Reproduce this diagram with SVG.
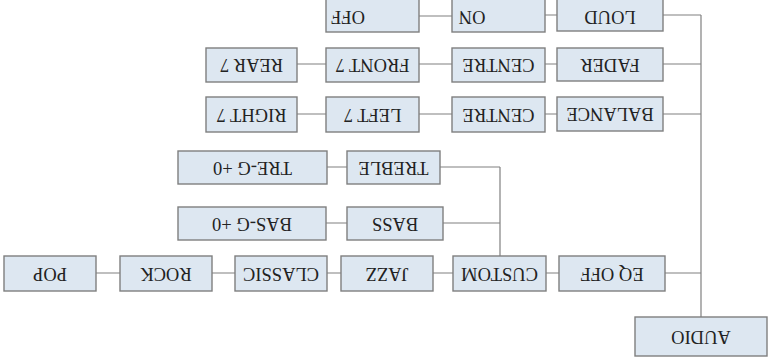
<svg xmlns="http://www.w3.org/2000/svg" width="768" height="364" viewBox="0 0 768 364">
<style>
.b{fill:#dde7f1;stroke:#7f7f7f;stroke-width:1.4}
.t{font-family:"Liberation Serif","Times New Roman",serif;font-size:18.5px;fill:#222222;text-anchor:middle}
.c{stroke:#808080;stroke-width:1.2;fill:none}
</style>
<rect width="768" height="364" fill="#ffffff"/>
<g id="connectors">
<path class="c" d="M701 15V317M663 15H701M663 64H701M663 114H701M665 273H701"/>
<path class="c" d="M545 15H557M419 16H452"/>
<path class="c" d="M545 64H557M419 64H452M297 64H326"/>
<path class="c" d="M545 114H557M419 114H452M297 114H326"/>
<path class="c" d="M546 273H559M433 273H453M327 273H341M212 273H235M96 273H120"/>
<path class="c" d="M500 256V167M440 167H500M443 223H500M327 167H347M326 223H347"/>
</g>
<g id="loud"><rect class="b" x="557" y="-5" width="106" height="36"/><text class="t" transform="rotate(180 610 11)" x="610" y="11">LOUD</text></g>
<g id="on"><rect class="b" x="452" y="-5" width="93" height="37"/><text class="t" transform="rotate(180 472 11)" x="472" y="11">ON</text></g>
<g id="off"><rect class="b" x="326" y="-5" width="93" height="37"/><text class="t" transform="rotate(180 348 11)" x="348" y="11">OFF</text></g>
<g id="fader"><rect class="b" x="557" y="48" width="106" height="33"/><text class="t" transform="rotate(180 610 58.5)" x="610" y="58.5">FADER</text></g>
<g id="centre1"><rect class="b" x="452" y="48" width="93" height="34"/><text class="t" transform="rotate(180 498.5 59)" x="498.5" y="59">CENTRE</text></g>
<g id="front7"><rect class="b" x="326" y="48" width="93" height="34"/><text class="t" transform="rotate(180 372.5 59)" x="372.5" y="59">FRONT 7</text></g>
<g id="rear7"><rect class="b" x="206" y="48" width="91" height="34"/><text class="t" transform="rotate(180 251.5 59)" x="251.5" y="59">REAR 7</text></g>
<g id="balance"><rect class="b" x="557" y="97" width="106" height="34"/><text class="t" transform="rotate(180 610 108)" x="610" y="108">BALANCE</text></g>
<g id="centre2"><rect class="b" x="452" y="97" width="93" height="35"/><text class="t" transform="rotate(180 498.5 108.5)" x="498.5" y="108.5">CENTRE</text></g>
<g id="left7"><rect class="b" x="326" y="97" width="93" height="35"/><text class="t" transform="rotate(180 372.5 108.5)" x="372.5" y="108.5">LEFT 7</text></g>
<g id="right7"><rect class="b" x="206" y="97" width="91" height="35"/><text class="t" transform="rotate(180 251.5 108.5)" x="251.5" y="108.5">RIGHT 7</text></g>
<g id="treble"><rect class="b" x="347" y="151" width="93" height="33"/><text class="t" transform="rotate(180 393.5 161.5)" x="393.5" y="161.5">TREBLE</text></g>
<g id="treg"><rect class="b" x="178" y="151" width="149" height="33"/><text class="t" transform="rotate(180 252.5 161.5)" x="252.5" y="161.5">TRE-G +0</text></g>
<g id="bass"><rect class="b" x="347" y="207" width="96" height="33"/><text class="t" transform="rotate(180 395 217.5)" x="395" y="217.5">BASS</text></g>
<g id="basg"><rect class="b" x="178" y="207" width="148" height="33"/><text class="t" transform="rotate(180 252 217.5)" x="252" y="217.5">BAS-G +0</text></g>
<g id="eqoff"><rect class="b" x="559" y="256" width="106" height="35"/><text class="t" transform="rotate(180 612 267.5)" x="612" y="267.5">EQ OFF</text></g>
<g id="custom"><rect class="b" x="453" y="256" width="93" height="35"/><text class="t" transform="rotate(180 499.5 267.5)" x="499.5" y="267.5">CUSTOM</text></g>
<g id="jazz"><rect class="b" x="341" y="256" width="92" height="35"/><text class="t" transform="rotate(180 387 267.5)" x="387" y="267.5">JAZZ</text></g>
<g id="classic"><rect class="b" x="235" y="256" width="92" height="35"/><text class="t" transform="rotate(180 281 267.5)" x="281" y="267.5">CLASSIC</text></g>
<g id="rock"><rect class="b" x="120" y="256" width="92" height="35"/><text class="t" transform="rotate(180 166 267.5)" x="166" y="267.5">ROCK</text></g>
<g id="pop"><rect class="b" x="4" y="256" width="92" height="35"/><text class="t" transform="rotate(180 50 267.5)" x="50" y="267.5">POP</text></g>
<g id="audio"><rect class="b" x="635" y="317" width="132" height="39"/><text class="t" transform="rotate(180 701 330.5)" x="701" y="330.5">AUDIO</text></g>
</svg>
